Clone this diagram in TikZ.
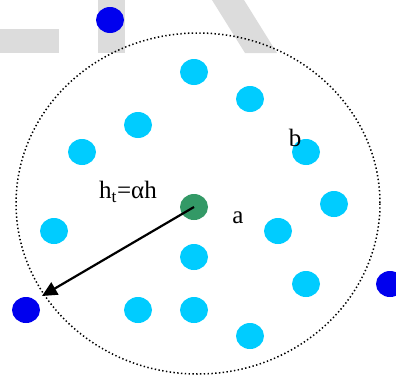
\documentclass[tikz,border=0pt]{standalone}
\usepackage{fontspec}
\setmainfont{Liberation Serif}
\usepackage{tikz}
\usetikzlibrary{arrows.meta,shapes.geometric}
\definecolor{wmgray}{HTML}{DCDCDC}
\definecolor{nbrcolor}{HTML}{00CCFF}
\definecolor{farcolor}{HTML}{0000EE}
\definecolor{headcolor}{HTML}{339966}

\begin{document}
\begin{tikzpicture}[
    x=1pt, y=-1pt,
    dot/.style={ellipse, inner sep=0pt, minimum width=28pt, minimum height=26pt},
    nbr/.style={dot, fill=nbrcolor},
    far/.style={dot, fill=farcolor},
    head/.style={dot, fill=headcolor},
    rangeline/.style={line width=1.5pt, dash pattern=on 1.4pt off 2.4pt},
    arrow/.style={-{Triangle[length=15pt, width=14pt]}, line width=2.2pt},
    lbl/.style={font=\fontsize{25}{27}\selectfont, inner sep=0pt}
]
\useasboundingbox (0,0) rectangle (396,376);

% Grey marks in the background
\fill[wmgray] (0,29) rectangle (59,53);
\fill[wmgray] (98,0) rectangle (125,53);
\fill[wmgray] (212,0) -- (244,0) -- (277,53) -- (245,53) -- cycle;

% Transmission range
\draw[rangeline] (198,203.5) ellipse [x radius=182, y radius=170.5];

% Nodes inside the range
\node[nbr] (n1) at (194,72) {};
\node[nbr] (n2) at (250,99) {};
\node[nbr] (n3) at (138,125) {};
\node[nbr] (n4) at (82,152) {};
\node[nbr] (n5) at (306,152) {};
\node[nbr] (n6) at (334,204) {};
\node[nbr] (n7) at (54,231) {};
\node[nbr] (n8) at (278,231) {};
\node[nbr] (n9) at (194,257) {};
\node[nbr] (n10) at (306,284) {};
\node[nbr] (n11) at (138,310) {};
\node[nbr] (n12) at (194,310) {};
\node[nbr] (n13) at (250,336) {};

% Nodes outside the range
\node[far] (f1) at (110,20) {};
\node[far] (f2) at (26,310) {};
\node[far] (f3) at (390,284) {};

% Cluster head
\node[head] (ch) at (194,207) {};

% Labels
\node[lbl] (ht) at (128,192) {h\textsubscript{t}=αh};
\node[lbl] (la) at (238,218) {a};
\node[lbl] (lb) at (295,138) {b};

% Radius arrow
\coordinate (rim) at (42,296);
\draw[arrow] (ch.center) -- (rim);

\end{tikzpicture}
\end{document}
